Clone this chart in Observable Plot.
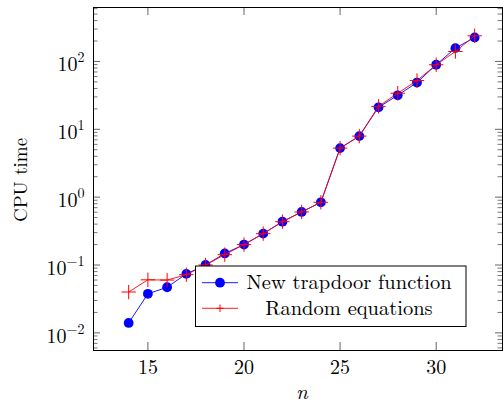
<!DOCTYPE html>
<html>
<head>
<meta charset="utf-8">
<script src="https://cdn.jsdelivr.net/npm/d3@7"></script>
<script src="https://cdn.jsdelivr.net/npm/@observablehq/plot@0.6"></script>
<style>
  html, body { margin: 0; padding: 0; background: #fff; }
  #chart { width: 503px; height: 403px; }
  #chart svg, #chart svg text, #chart svg tspan {
    font-family: 'Latin Modern Roman', 'Liberation Serif', serif !important;
  }
</style>
</head>
<body>
<div id="chart"></div>
<script>
// ---- data ----
const nValues = [14, 15, 16, 17, 18, 19, 20, 21, 22, 23, 24, 25, 26, 27, 28, 29, 30, 31, 32];
const trapdoorTimes = [0.014, 0.0376, 0.047, 0.074, 0.1, 0.148, 0.20, 0.29, 0.435, 0.605, 0.84, 5.28, 7.94, 21.1, 31.7, 48.9, 89.4, 157, 226];
const randomTimes   = [0.040, 0.0605, 0.060, 0.072, 0.1, 0.142, 0.20, 0.29, 0.435, 0.605, 0.84, 5.28, 7.94, 21.8, 34.0, 52.3, 89.4, 140, 239];
const seriesNames = ["New trapdoor function", "Random equations"];
const xTicks = [15, 20, 25, 30];
const yTickExponents = [-2, -1, 0, 1, 2];
const xLabel = "n";
const yLabel = "CPU time";

const trapdoor = nValues.map((n, i) => ({n, t: trapdoorTimes[i]}));
const random = nValues.map((n, i) => ({n, t: randomTimes[i]}));
const yMajor = yTickExponents.map(e => 10 ** e);
const yMinor = [];
for (const e of [-3, ...yTickExponents]) for (let k = 2; k <= 9; k++) yMinor.push(k * 10 ** e);

const W = 503, H = 403, mL = 93, mR = 1, mT = 7, mB = 53;
const pw = W - mL - mR, ph = H - mT - mB;
const yDomain = [10 ** -2.26, 10 ** 2.795];
const yMinorIn = yMinor.filter(v => v > yDomain[0] && v < yDomain[1]);
const tickStroke = "#555";
const minus = s => String(s).replace("-", "\u2212");

const plot = Plot.plot({
  width: W, height: H,
  marginLeft: mL, marginRight: mR, marginTop: mT, marginBottom: mB,
  style: {"font-family": "'Latin Modern Roman', 'Liberation Serif', serif", "font-size": "20px", "background": "#fff", "color": "#000"},
  x: {domain: [12.17, 33.45], axis: null},
  y: {type: "log", domain: yDomain, axis: null},
  marks: [
    // inward ticks: left/right minor & major
    Plot.tickY(yMinorIn, {y: d => d, stroke: tickStroke, strokeWidth: 0.8, insetRight: pw - 4.5}),
    Plot.tickY(yMinorIn, {y: d => d, stroke: tickStroke, strokeWidth: 0.8, insetLeft: pw - 4.5}),
    Plot.tickY(yMajor, {y: d => d, stroke: tickStroke, strokeWidth: 0.9, insetRight: pw - 7}),
    Plot.tickY(yMajor, {y: d => d, stroke: tickStroke, strokeWidth: 0.9, insetLeft: pw - 7}),
    // top/bottom major ticks
    Plot.tickX(xTicks, {x: d => d, stroke: tickStroke, strokeWidth: 0.9, insetTop: ph - 8}),
    Plot.tickX(xTicks, {x: d => d, stroke: tickStroke, strokeWidth: 0.9, insetBottom: ph - 8}),
    // frame
    Plot.frame({stroke: "#000", strokeWidth: 1}),
    // series
    Plot.line(trapdoor, {x: "n", y: "t", stroke: "#0000ff", strokeWidth: 0.9}),
    Plot.dot(trapdoor, {x: "n", y: "t", r: 4.9, fill: "#0000ff", stroke: "none"}),
    Plot.line(random, {x: "n", y: "t", stroke: "#ff0000", strokeWidth: 0.9}),
    Plot.dot(random, {x: "n", y: "t", r: 4.7, symbol: "plus", stroke: "#ff0000", strokeWidth: 1, fill: "none"}),
    // x tick labels
    Plot.text(xTicks, {x: d => d, frameAnchor: "bottom", dy: 23.5, lineAnchor: "bottom", text: d => String(d), fontSize: 20}),
    // y tick labels (10^e, superscript added below)
    Plot.text(yTickExponents, {y: d => 10 ** d, frameAnchor: "left", dx: -9, dy: 10, lineAnchor: "bottom", textAnchor: "end", text: d => "10^" + minus(d), fontSize: 20}),
    // axis titles
    Plot.text([xLabel], {frameAnchor: "bottom", dx: 4, dy: 48, lineAnchor: "bottom", text: d => d, fontStyle: "italic", fontSize: 21}),
    Plot.text([yLabel], {frameAnchor: "left", dx: -73, dy: 1, rotate: -90, textAnchor: "middle", lineAnchor: "middle", text: d => d, fontSize: 19})
  ]
});

// superscripts for the log tick labels
d3.select(plot).selectAll("text").each(function () {
  const t = d3.select(this);
  const s = t.text();
  if (!s.includes("^")) return;
  const [base, exp] = s.split("^");
  t.text(base);
  t.append("tspan").attr("dy", -9).attr("font-size", 14).text(exp);
});

// legend
const svg = d3.select(plot);
const lg = svg.append("g").attr("font-size", 20.5);
lg.append("rect").attr("x", 195.5).attr("y", 266).attr("width", 270.5).attr("height", 60.5)
  .attr("fill", "#fff").attr("stroke", "#000").attr("stroke-width", 1);
const rows = [282.7, 308.3];
const colors = ["#0000ff", "#ff0000"];
rows.forEach((ry, i) => {
  lg.append("line").attr("x1", 202).attr("x2", 238).attr("y1", ry).attr("y2", ry)
    .attr("stroke", colors[i]).attr("stroke-width", 0.9);
  if (i === 0) {
    lg.append("circle").attr("cx", 220).attr("cy", ry).attr("r", 4.9).attr("fill", colors[i]);
  } else {
    lg.append("path").attr("d", `M216.3,${ry}H223.7M220,${ry - 3.7}V${ry + 3.7}`)
      .attr("stroke", colors[i]).attr("stroke-width", 1).attr("fill", "none");
  }
  lg.append("text").attr("x", 349).attr("y", ry + 6.3).attr("text-anchor", "middle").attr("fill", "#000").text(seriesNames[i]);
});

document.getElementById("chart").appendChild(plot);
</script>
</body>
</html>
